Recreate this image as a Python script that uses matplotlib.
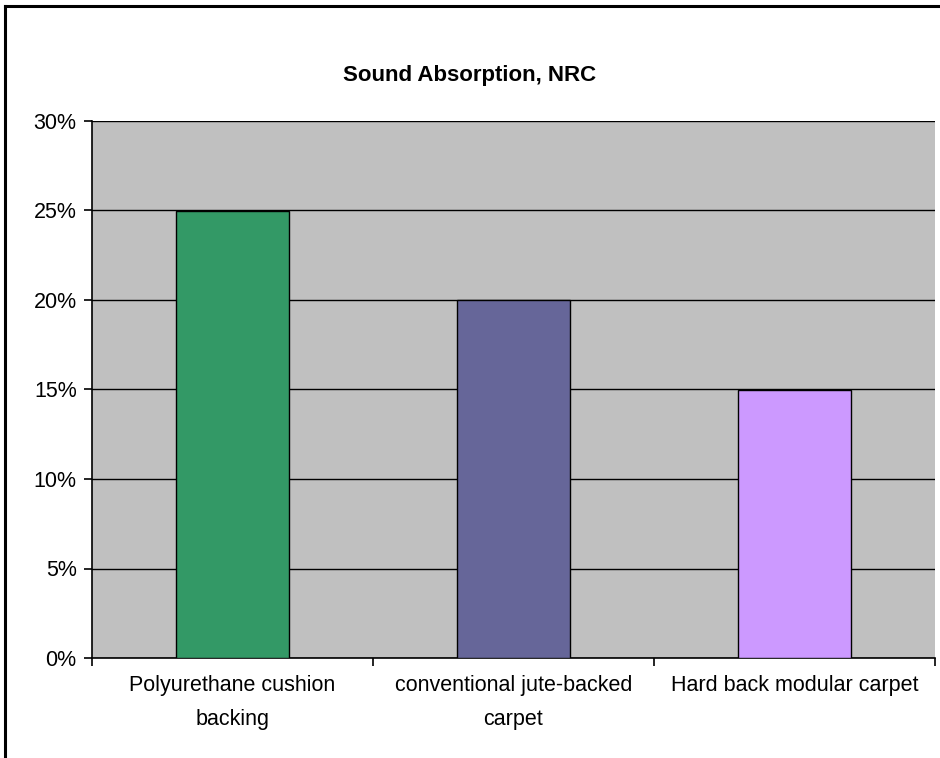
import matplotlib
matplotlib.use('Agg')
import matplotlib.pyplot as plt
from matplotlib.lines import Line2D
from matplotlib.ticker import MultipleLocator, PercentFormatter, FixedLocator, NullFormatter

plt.rcParams['font.family'] = ['Liberation Sans', 'DejaVu Sans']

# data
categories = ['Polyurethane cushion\nbacking', 'conventional jute-backed\ncarpet',
              'Hard back modular carpet']
nrc = [0.25, 0.20, 0.15]
colors = ['#339966', '#666699', '#CC99FF']

fig = plt.figure(figsize=(9.4, 7.58), dpi=100)
ax = fig.add_axes([92 / 940, 1 - 658 / 758, 843 / 940, 537 / 758])
ax.set_facecolor('#C0C0C0')

x = range(len(categories))
ax.bar(x, nrc, width=0.4, color=colors, edgecolor='black', linewidth=1.0, zorder=3)

ax.set_ylim(0, 0.30)
ax.set_xlim(-0.5, len(categories) - 0.5)
ax.yaxis.set_major_locator(MultipleLocator(0.05))
ax.yaxis.set_major_formatter(PercentFormatter(1.0, decimals=0))
ax.yaxis.grid(True, color='black', linewidth=1.0, zorder=1)
ax.set_axisbelow(True)

# category labels centred, ticks on the boundaries
ax.set_xticks(list(x))
ax.set_xticklabels(categories, fontsize=15.5, linespacing=1.85)
ax.tick_params(axis='x', which='major', length=0, pad=12)
ax.xaxis.set_minor_locator(FixedLocator([-0.5, 0.5, 1.5, 2.5]))
ax.xaxis.set_minor_formatter(NullFormatter())
ax.tick_params(axis='x', which='minor', length=6, width=1.2, direction='out')
ax.tick_params(axis='y', length=6, width=1.2, labelsize=15.5, pad=5)

for side in ['top', 'right']:
    ax.spines[side].set_visible(False)
for side in ['left', 'bottom']:
    ax.spines[side].set_linewidth(1.2)

fig.text(0.5, 1 - 75 / 758, 'Sound Absorption, NRC', ha='center', va='center',
         fontsize=16, fontweight='bold')

# chart border (only top and left edges show in the original)
fig.add_artist(Line2D([5 / 940, 1], [1 - 6 / 758, 1 - 6 / 758], color='black', linewidth=2.2,
                      transform=fig.transFigure))
fig.add_artist(Line2D([5 / 940, 5 / 940], [0, 1 - 6 / 758], color='black', linewidth=2.2,
                      transform=fig.transFigure))

fig.savefig('out.png', dpi=100)
